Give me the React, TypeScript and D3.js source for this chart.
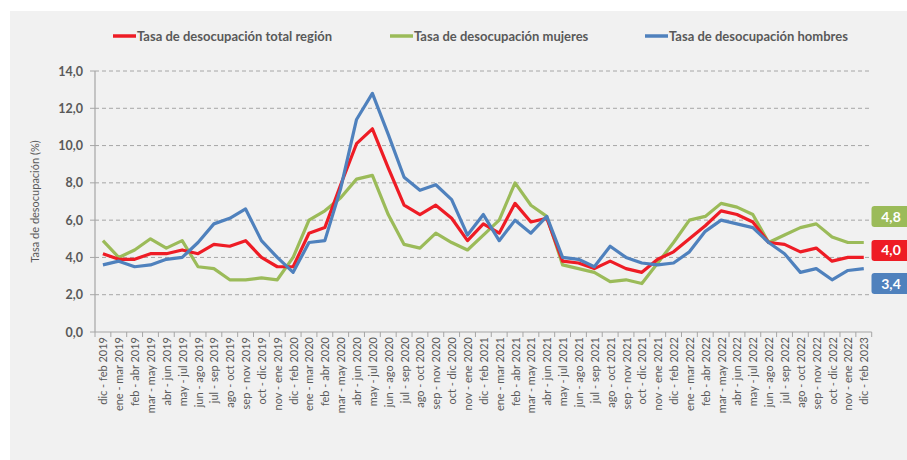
import React from "react";
import * as d3 from "d3";

// periodos móviles trimestrales
const periods = [
  "dic - feb 2019", "ene - mar 2019", "feb - abr 2019", "mar - may 2019", "abr - jun 2019", "may - jul 2019",
  "jun - ago 2019", "jul - sep 2019", "ago - oct 2019", "sep - nov 2019", "oct - dic 2019", "nov - ene 2019",
  "dic - feb 2020", "ene - mar 2020", "feb - abr 2020", "mar - may 2020", "abr - jun 2020", "may - jul 2020",
  "jun - ago 2020", "jul - sep 2020", "ago - oct 2020", "sep - nov 2020", "oct - dic 2020", "nov - ene 2020",
  "dic - feb 2021", "ene - mar 2021", "feb - abr 2021", "mar - may 2021", "abr - jun 2021", "may - jul 2021",
  "jun - ago 2021", "jul - sep 2021", "ago - oct 2021", "sep - nov 2021", "oct - dic 2021", "nov - ene 2021",
  "dic - feb 2022", "ene - mar 2022", "feb - abr 2022", "mar - may 2022", "abr - jun 2022", "may - jul 2022",
  "jun - ago 2022", "jul - sep 2022", "ago - oct 2022", "sep - nov 2022", "oct - dic 2022", "nov - ene 2022",
  "dic - feb 2023",
];

const totalRegion = [
  4.2, 3.9, 3.9, 4.2, 4.2, 4.4, 4.2, 4.7, 4.6, 4.9, 4.0, 3.5,
  3.5, 5.3, 5.6, 7.9, 10.1, 10.9, 8.8, 6.8, 6.3, 6.8, 6.1, 4.9,
  5.8, 5.3, 6.9, 5.9, 6.1, 3.8, 3.7, 3.4, 3.8, 3.4, 3.2, 3.9,
  4.3, 5.0, 5.7, 6.5, 6.3, 5.9, 4.8, 4.7, 4.3, 4.5, 3.8, 4.0,
  4.0,
];

const mujeres = [
  4.9, 4.0, 4.4, 5.0, 4.5, 4.9, 3.5, 3.4, 2.8, 2.8, 2.9, 2.8,
  4.0, 6.0, 6.5, 7.2, 8.2, 8.4, 6.3, 4.7, 4.5, 5.3, 4.8, 4.4,
  5.2, 6.0, 8.0, 6.8, 6.2, 3.6, 3.4, 3.2, 2.7, 2.8, 2.6, 3.7,
  4.8, 6.0, 6.2, 6.9, 6.7, 6.3, 4.8, 5.2, 5.6, 5.8, 5.1, 4.8,
  4.8,
];

const hombres = [
  3.6, 3.8, 3.5, 3.6, 3.9, 4.0, 4.8, 5.8, 6.1, 6.6, 4.9, 4.0,
  3.2, 4.8, 4.9, 7.7, 11.4, 12.8, 10.6, 8.3, 7.6, 7.9, 7.1, 5.2,
  6.3, 4.9, 6.0, 5.3, 6.2, 4.0, 3.9, 3.5, 4.6, 4.0, 3.7, 3.6,
  3.7, 4.3, 5.4, 6.0, 5.8, 5.6, 4.8, 4.2, 3.2, 3.4, 2.8, 3.3,
  3.4,
];

const yTicks = [0, 2, 4, 6, 8, 10, 12, 14];

const seriesList = [
  { name: "Tasa de desocupación total región", values: totalRegion, color: "#ee1c25", labelShift: -7 },
  { name: "Tasa de desocupación mujeres", values: mujeres, color: "#9bbb59", labelShift: -26 },
  { name: "Tasa de desocupación hombres", values: hombres, color: "#4f81bd", labelShift: 15 },
];

const legendX = [113, 390, 645];

const fmt = (v: number) => v.toFixed(1).replace(".", ",");

export default function App() {
  const width = 907;
  const height = 460;
  const left = 95;
  const right = 871.7;
  const top = 71;
  const bottom = 332;
  const font = "Lato, 'Open Sans', sans-serif";
  const grey = "#595959";

  const x = d3.scalePoint<string>().domain(periods).range([left, right]).padding(0.5);
  const y = d3.scaleLinear().domain([0, 14]).range([bottom, top]);
  const step = x.step();

  const line = d3
    .line<number>()
    .x((_, i) => x(periods[i]) as number)
    .y((d) => y(d));

  return (
    <svg
      width={width}
      height={height}
      style={{ position: "absolute", left: 0, top: 0, fontFamily: font }}
    >
      <rect x={0} y={0} width={width} height={height} fill="#ffffff" />
      <rect x={10} y={11} width={width - 10} height={height - 11} fill="#f1f1f1" />

      {/* leyenda */}
      {seriesList.map((s, i) => (
        <g key={s.name} transform={`translate(${legendX[i]}, 36)`}>
          <line x1={0} x2={23} y1={0} y2={0} stroke={s.color} strokeWidth={3.5} />
          <text x={24} y={4.5} fontSize={13} fontWeight="bold" fill={grey}>
            {s.name}
          </text>
        </g>
      ))}

      {/* grilla */}
      {yTicks.filter((t) => t > 0).map((t) => (
        <line
          key={t}
          x1={left}
          x2={right}
          y1={y(t)}
          y2={y(t)}
          stroke="#a6a6a6"
          strokeWidth={1}
          strokeDasharray="4,3"
        />
      ))}

      {/* eje y */}
      <line x1={left} x2={left} y1={top} y2={bottom} stroke="#a6a6a6" strokeWidth={1.2} />
      {yTicks.map((t) => (
        <g key={t}>
          <line x1={left - 5} x2={left} y1={y(t)} y2={y(t)} stroke="#a6a6a6" />
          <text x={left - 12} y={y(t) + 4.5} textAnchor="end" fontSize={12.5} fontWeight="bold" fill={grey}>
            {fmt(t)}
          </text>
        </g>
      ))}
      <text
        transform={`translate(39, ${(top + bottom) / 2}) rotate(-90)`}
        textAnchor="middle"
        fontSize={11}
        fill={grey}
      >
        Tasa de desocupación  (%)
      </text>

      {/* eje x */}
      <line x1={left} x2={right} y1={bottom} y2={bottom} stroke="#a6a6a6" strokeWidth={1.2} />
      {d3.range(periods.length + 1).map((k) => (
        <line
          key={k}
          x1={left + k * step}
          x2={left + k * step}
          y1={bottom}
          y2={bottom + 5}
          stroke="#a6a6a6"
        />
      ))}
      {periods.map((p) => (
        <text
          key={p}
          transform={`translate(${(x(p) as number) + 4.5}, ${bottom + 5}) rotate(-90)`}
          textAnchor="end"
          fontSize={11}
          fill={grey}
        >
          {p}
        </text>
      ))}

      {/* series */}
      {[seriesList[1], seriesList[0], seriesList[2]].map((s) => (
        <path
          key={s.name}
          d={line(s.values) || ""}
          fill="none"
          stroke={s.color}
          strokeWidth={3.2}
          strokeLinejoin="round"
        />
      ))}

      {/* etiquetas finales */}
      {seriesList.map((s) => {
        const last = s.values[s.values.length - 1];
        const cy = y(last) + s.labelShift;
        return (
          <g key={s.name}>
            <rect x={871.5} y={cy - 10.5} width={42} height={21} rx={3} fill={s.color} />
            <text
              x={891}
              y={cy + 5}
              textAnchor="middle"
              fontSize={14}
              fontWeight="bold"
              fill="#ffffff"
            >
              {fmt(last)}
            </text>
          </g>
        );
      })}
    </svg>
  );
}
